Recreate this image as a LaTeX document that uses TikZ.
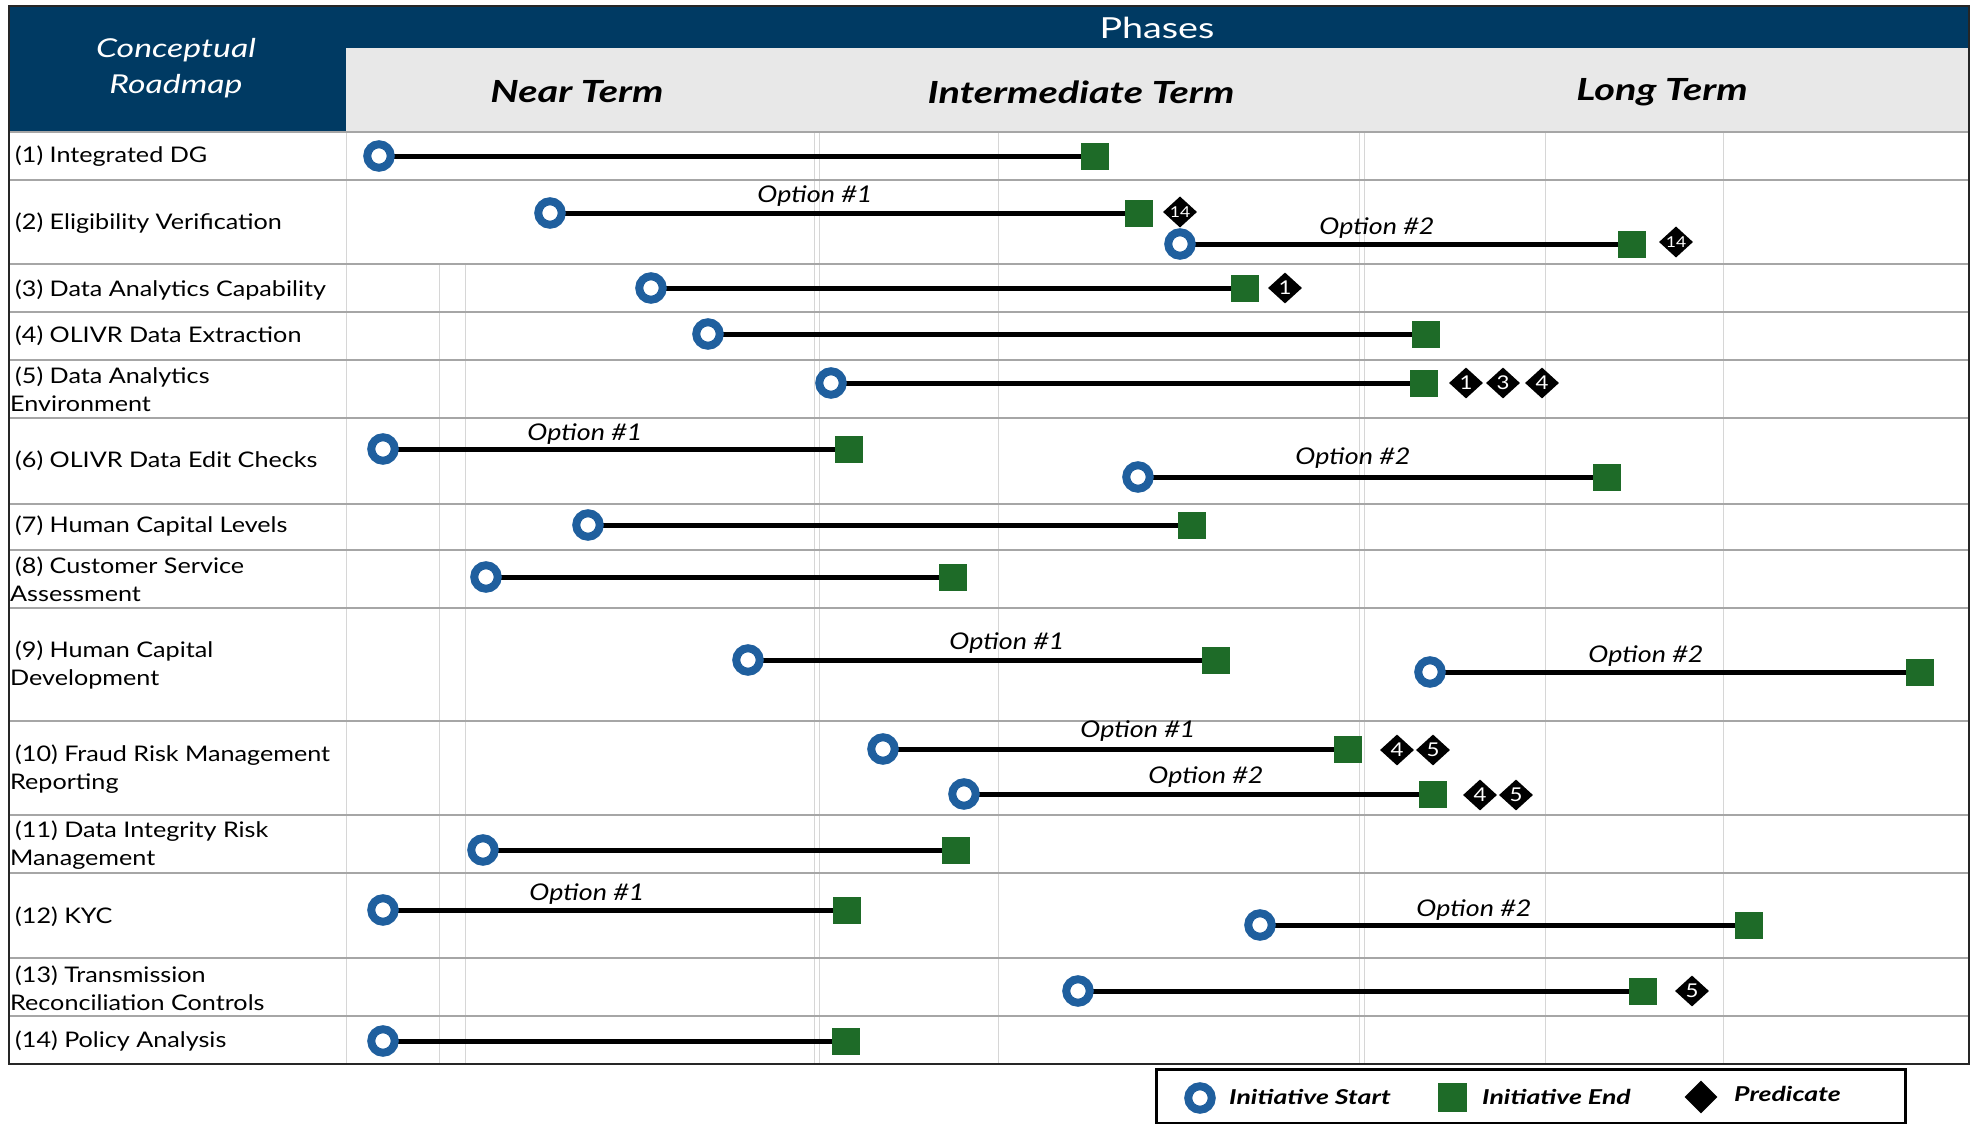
\documentclass[tikz,border=0pt]{standalone}
\usepackage{fontspec}
\setmainfont{Lato}[FakeStretch=1.17]
\newfontfamily\widefont{Lato}[FakeStretch=1.3]
\usetikzlibrary{shapes.geometric}

\definecolor{hdrblue}{HTML}{003A63}
\definecolor{hdrgray}{HTML}{E8E8E8}
\definecolor{ringblue}{HTML}{1F5F9E}
\definecolor{endgreen}{HTML}{1E6B28}
\definecolor{rowrule}{HTML}{A6A6A6}
\definecolor{gridrule}{HTML}{D6D6D6}

\pgfdeclarelayer{bg}
\pgfsetlayers{bg,main}

\tikzset{
  startpt/.style={circle, draw=ringblue, line width=8pt, fill=white,
    minimum size=23.5pt, inner sep=0pt},
  endpt/.style={rectangle, fill=endgreen, minimum width=28pt,
    minimum height=27pt, inner sep=0pt},
  pred/.style={diamond, fill=black, minimum width=34pt, minimum height=31pt,
    inner sep=0pt, text=white, font=\fontsize{19}{19}\selectfont},
  predsmall/.style={pred, font=\fontsize{15}{15}\selectfont},
  barline/.style={line width=5pt, black},
  optlabel/.style={font=\fontsize{23}{25}\selectfont\itshape, inner sep=0pt},
  rowlabel/.style={anchor=west, align=left, inner sep=0pt,
    font=\fontsize{21.5}{28.5}\selectfont},
  phaselabel/.style={font=\widefont\fontsize{30.5}{34}\selectfont\bfseries\itshape, inner sep=0pt},
  legtext/.style={anchor=west, inner sep=0pt,
    font=\widefont\fontsize{20.5}{22}\selectfont\bfseries\itshape},
  rowrulestyle/.style={draw=rowrule, line width=2.2pt},
  gridstyle/.style={draw=gridrule, line width=1pt},
}

% one initiative: name, y, start x, end x
\newcommand\roadbar[4]{%
  \node[startpt] (#1s) at (#3,#2) {};
  \node[endpt] (#1e) at (#4,#2) {};
  \begin{pgfonlayer}{bg}
    \draw[barline] (#1s.center) -- (#1e.center);
  \end{pgfonlayer}
}

\begin{document}
\begin{tikzpicture}[x=1pt, y=-1pt]
\useasboundingbox (0,0) rectangle (1974,1124);

\begin{pgfonlayer}{bg}
  % header bands
  \fill[hdrblue] (9,6) rectangle (1969,132);
  \fill[hdrgray] (346,48) rectangle (1969,132);
  % column grid
  \draw[gridstyle] (346,132) -- (346,1064);
  \foreach \gx in {439,465} \draw[gridstyle] (\gx,264) -- (\gx,1064);
  \foreach \gx in {814,819,998,1359,1364,1545,1723}
    \draw[gridstyle] (\gx,132) -- (\gx,1064);
  % row rules
  \foreach \ry in {180,264,312,360,418,504,550,608,721,815,873,958,1016}
    \draw[rowrulestyle] (9,\ry) -- (1969,\ry);
  \draw[rowrulestyle] (9,132) -- (1969,132);
  % outer frame
  \draw[line width=2.5pt, black!85] (9,6) rectangle (1969,1064);
\end{pgfonlayer}

% header texts
\node[text=white, font=\widefont\fontsize{29}{30}\selectfont, inner sep=0pt] (phases) at (1157,28) {Phases};
\node[text=white, align=center, inner sep=0pt,
      font=\widefont\fontsize{26}{36}\selectfont\itshape] (title) at (176,68) {Conceptual\\Roadmap};
\node[phaselabel] (near) at (577,92) {Near Term};
\node[phaselabel] (inter) at (1081,92) {Intermediate Term};
\node[phaselabel] (long) at (1662,92) {Long Term};

% row names
\node[rowlabel] (n1)  at (10,156)  {\hspace*{5pt}(1) Integrated DG};
\node[rowlabel] (n2)  at (10,223)  {\hspace*{5pt}(2) Eligibility Verification};
\node[rowlabel] (n3)  at (10,290)  {\hspace*{5pt}(3) Data Analytics Capability};
\node[rowlabel] (n4)  at (10,336)  {\hspace*{5pt}(4) OLIVR Data Extraction};
\node[rowlabel] (n5)  at (10,389)  {\hspace*{5pt}(5) Data Analytics\\Environment};
\node[rowlabel] (n6)  at (10,461)  {\hspace*{5pt}(6) OLIVR Data Edit Checks};
\node[rowlabel] (n7)  at (10,526)  {\hspace*{5pt}(7) Human Capital Levels};
\node[rowlabel] (n8)  at (10,579)  {\hspace*{5pt}(8) Customer Service\\Assessment};
\node[rowlabel] (n9)  at (10,665)  {\hspace*{5pt}(9) Human Capital\\Development};
\node[rowlabel] (n10) at (10,769)  {\hspace*{5pt}(10) Fraud Risk Management\\Reporting};
\node[rowlabel] (n11) at (10,845)  {\hspace*{5pt}(11) Data Integrity Risk\\Management};
\node[rowlabel] (n12) at (10,917)  {\hspace*{5pt}(12) KYC};
\node[rowlabel] (n13) at (10,988)  {\hspace*{5pt}(13) Transmission\\Reconciliation Controls};
\node[rowlabel] (n14) at (10,1041) {\hspace*{5pt}(14) Policy Analysis};

% initiatives
\roadbar{r1}{156}{379}{1095}

\roadbar{r2a}{213}{550}{1139}
\node[predsmall] (p2a) at (1180,212) {14};
\node[optlabel] (o2a) at (815,196) {Option \#1};
\roadbar{r2b}{244}{1180}{1632}
\node[predsmall] (p2b) at (1676,242) {14};
\node[optlabel] (o2b) at (1377,228) {Option \#2};

\roadbar{r3}{288}{651}{1245}
\node[pred] (p3) at (1285,288) {1};

\roadbar{r4}{334}{708}{1426}

\roadbar{r5}{383}{831}{1424}
\node[pred] (p5a) at (1466,383) {1};
\node[pred] (p5b) at (1503,383) {3};
\node[pred] (p5c) at (1542,383) {4};

\roadbar{r6a}{449}{383}{849}
\node[optlabel] (o6a) at (585,434) {Option \#1};
\roadbar{r6b}{477}{1138}{1607}
\node[optlabel] (o6b) at (1353,458) {Option \#2};

\roadbar{r7}{525}{588}{1192}

\roadbar{r8}{577}{486}{953}

\roadbar{r9a}{660}{748}{1216}
\node[optlabel] (o9a) at (1007,643) {Option \#1};
\roadbar{r9b}{672}{1430}{1920}
\node[optlabel] (o9b) at (1646,656) {Option \#2};

\roadbar{r10a}{749}{883}{1348}
\node[pred] (p10a) at (1397,750) {4};
\node[pred] (p10b) at (1433,750) {5};
\node[optlabel] (o10a) at (1138,731) {Option \#1};
\roadbar{r10b}{794}{964}{1433}
\node[pred] (p10c) at (1480,795) {4};
\node[pred] (p10d) at (1516,795) {5};
\node[optlabel] (o10b) at (1206,777) {Option \#2};

\roadbar{r11}{850}{483}{956}

\roadbar{r12a}{910}{383}{847}
\node[optlabel] (o12a) at (587,894) {Option \#1};
\roadbar{r12b}{925}{1260}{1749}
\node[optlabel] (o12b) at (1474,910) {Option \#2};

\roadbar{r13}{991}{1078}{1643}
\node[pred] (p13) at (1692,991) {5};

\roadbar{r14}{1041}{383}{846}

% legend
\draw[line width=3pt, black] (1156,1069) rectangle (1905,1123);
\node[startpt] (lgs) at (1200,1098) {};
\node[legtext] (lgst) at (1229,1097) {Initiative Start};
\node[endpt, minimum width=29pt, minimum height=29pt] (lge) at (1452,1097) {};
\node[legtext] (lget) at (1482,1097) {Initiative End};
\node[pred, minimum width=33pt, minimum height=33pt] (lgp) at (1701,1097) {};
\node[legtext] (lgpt) at (1734,1094) {Predicate};
\end{tikzpicture}
\end{document}
